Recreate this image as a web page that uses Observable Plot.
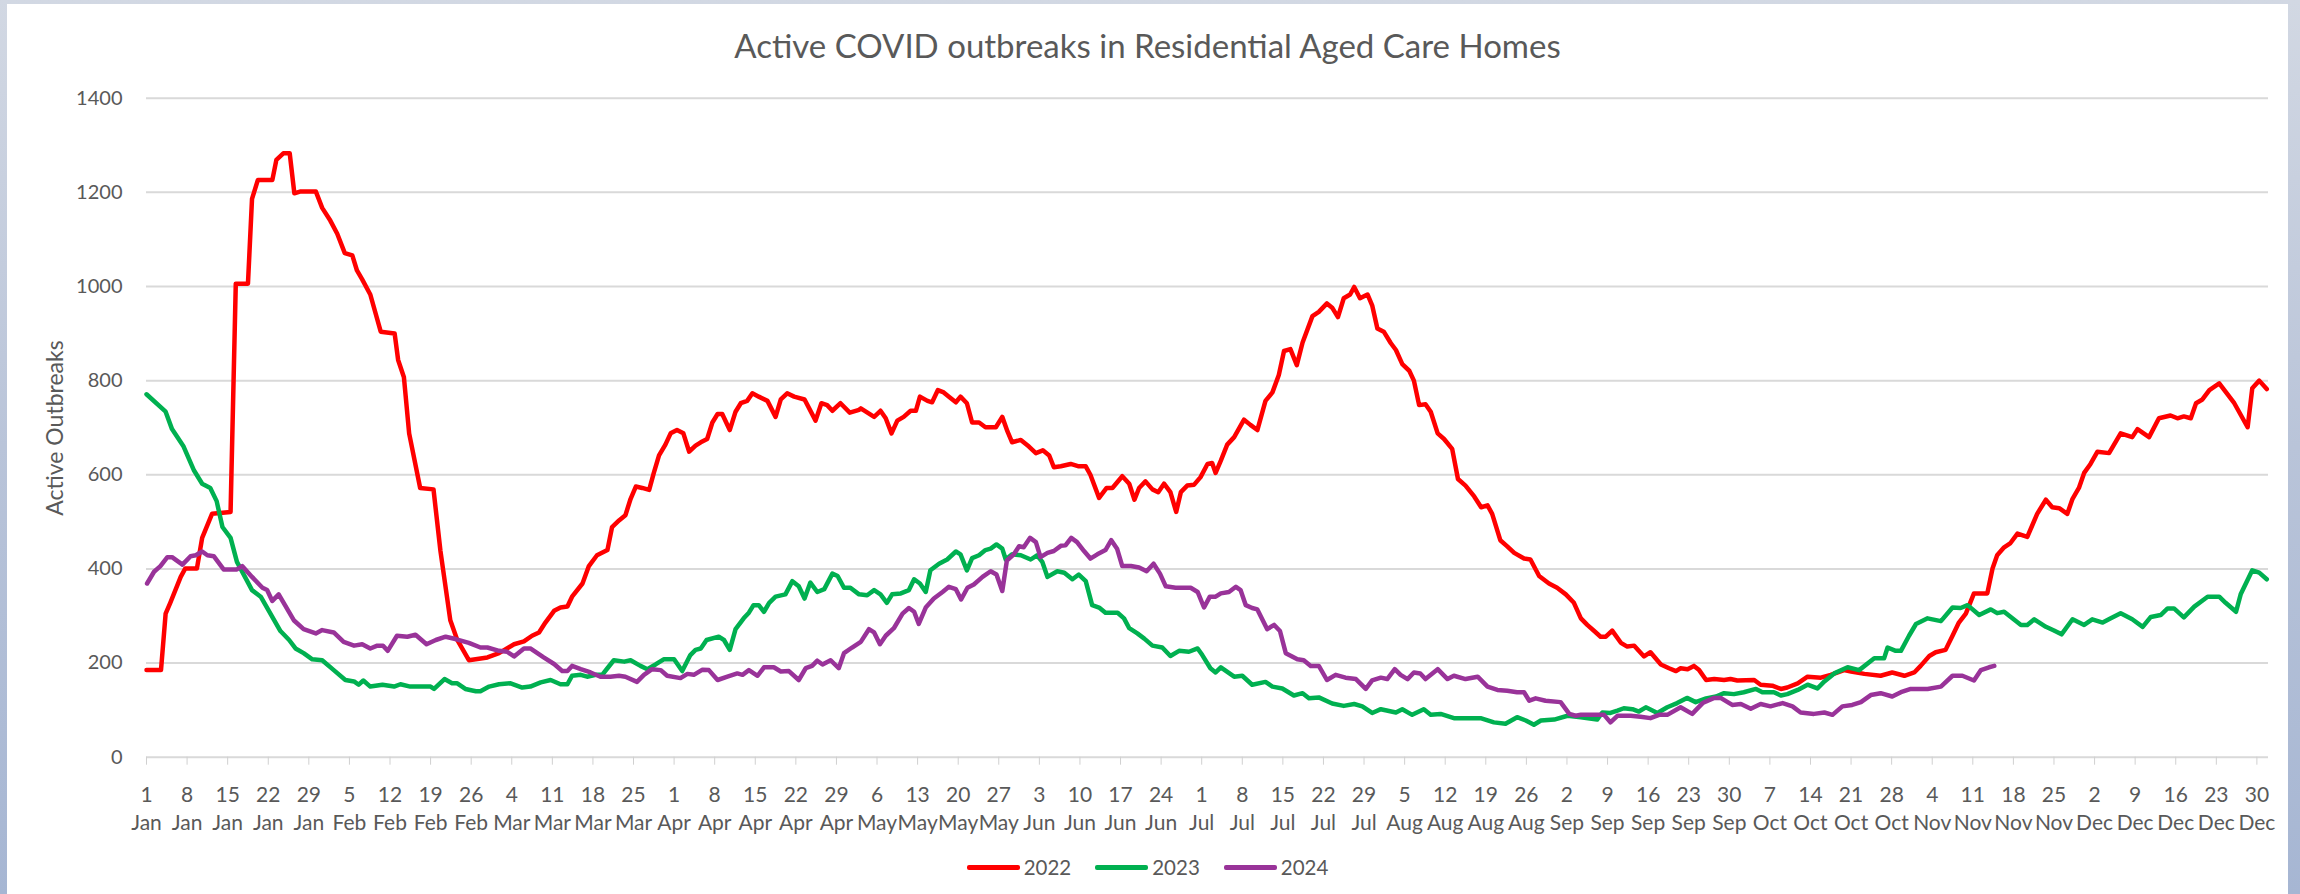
<!DOCTYPE html>
<html><head><meta charset="utf-8">
<script src="https://cdn.jsdelivr.net/npm/d3@7"></script>
<script src="https://cdn.jsdelivr.net/npm/@observablehq/plot@0.6"></script>
<style>
html,body{margin:0;padding:0;}
body{width:2300px;height:894px;overflow:hidden;background:linear-gradient(180deg,#d2d8e3 0%,#b9c4d9 50%,#a6b6d3 100%);font-family:Lato,"Open Sans",sans-serif;position:relative;}
#card{position:absolute;left:7px;top:4px;width:2281px;height:890px;background:#fff;}
#title{position:absolute;left:7px;width:2281px;top:25px;text-align:center;font-size:33px;color:#595959;line-height:40px;}
#ytitle{position:absolute;left:54px;top:428px;transform:translate(-50%,-50%) rotate(-90deg);font-size:23px;color:#595959;white-space:nowrap;}
#chart{position:absolute;left:0;top:60px;}
#legend{position:absolute;left:7px;width:2281px;top:853px;height:28px;display:flex;justify-content:center;align-items:center;gap:24px;font-size:20.5px;color:#595959;}
.item{display:flex;align-items:center;gap:4px}
.sw{width:53px;height:5px;border-radius:2px;}
</style>
</head><body>
<div id="card"></div>
<div id="title">Active COVID outbreaks in Residential Aged Care Homes</div>
<div id="ytitle">Active Outbreaks</div>
<div id="chart"></div>
<div id="legend"></div>
<script>
const years = ["2022", "2023", "2024"];
const colors = ["#ff0000", "#00b050", "#993399"];
const monthNames = ["Jan","Feb","Mar","Apr","May","Jun","Jul","Aug","Sep","Oct","Nov","Dec"];
const yTicks = [0, 200, 400, 600, 800, 1000, 1200, 1400];
const xTicks = d3.range(0, 365, 7);

const days2022 = [0,2.5,3.3,4.1,5.9,6.7,8.7,9.6,11.3,14.5,15.4,17.5,18.2,19.2,21.7,22.4,23.6,24.7,25.5,26.6,29.2,30.3,31.7,32.9,34.2,35.5,36.3,37.2,38.6,40.4,42.8,43.4,44.4,45.3,47.2,49.5,50.7,52.4,53.6,55.6,58.8,60.8,
63.4,65.1,66.5,67.7,68.8,70.3,71.4,72.6,73.4,75.2,76.3,77.7,79.5,80.3,81.5,82.6,83.5,84.4,85.5,86.7,87.5,88.4,89.5,90.4,91.5,92.6,93.6,94.7,95.6,96.7,97.6,98.5,99.3,100.6,101.6,102.5,103.6,104.5,105.6,107.1,108.5,109.4,110.5,111.7,113.5,115.4,116.4,117.4,118.3,119.7,121.3,122.9,
123.2,125.5,126.6,127.5,128.5,129.5,130.6,131.8,132.7,133.4,134.7,135.5,136.5,137.5,138.4,139.6,140.4,141.5,142.4,143.6,144.7,146.5,147.6,148.5,149.3,150.8,152.2,153.4,154.6,155.7,156.5,157.7,159.4,160.8,162.0,162.8,164.3,165.6,166.6,168.3,169.5,170.4,171.2,172.3,173.5,174.5,175.5,176.6,177.6,178.4,179.5,180.7,181.8,183.0,183.8,184.4,185.3,
186.4,187.6,189.3,190.4,191.6,193.0,194.2,195.3,196.2,197.3,198.4,199.4,201.1,202.2,203.6,204.5,205.5,206.5,207.6,208.3,209.3,210.6,211.4,212.3,213.4,214.6,215.5,216.6,217.8,218.6,219.5,220.6,221.5,222.7,223.8,225.2,226.2,227.5,229.0,230.2,231.3,232.1,233.5,234.7,235.9,237.6,238.7,240.2,241.9,243.3,244.8,246.2,247.4,
248.5,249.7,250.8,251.7,252.8,254.3,255.4,256.6,258.3,259.4,261.2,262.6,263.8,264.6,265.8,266.9,267.8,269.0,270.4,272.1,273.2,274.4,277.3,278.4,280.4,281.9,283.0,284.8,286.5,288.8,290.5,292.8,294.0,296.3,299.1,301.1,303.2,304.9,306.0,307.5,308.6,
310.3,311.5,312.6,313.8,315.2,317.5,318.4,319.2,320.4,321.5,322.7,324.4,326.1,327.6,328.7,329.9,331.3,332.2,333.3,334.2,335.3,336.5,338.5,340.5,342.5,343.4,345.4,347.1,349.1,350.3,351.4,352.6,353.5,354.6,355.8,357.5,360.1,362.4,363.2,364.4,365.7];
const vals2022 = [185,185,305,328,383,401,401,466,517,521,1006,1006,1186,1226,1226,1269,1283,1283,1198,1202,1202,1167,1140,1112,1071,1066,1034,1015,983,904,900,844,807,688,572,569,438,291,249,206,212,221,
240,246,258,265,286,311,318,320,341,369,406,429,440,489,503,514,549,575,572,568,604,641,664,688,695,688,649,662,669,676,711,729,729,695,734,752,757,773,766,757,723,760,773,766,760,715,752,748,736,752,732,738,
741,723,736,720,688,715,723,736,736,766,757,754,780,775,766,754,766,752,711,711,701,701,723,692,669,674,660,646,652,641,616,618,623,618,618,600,551,572,572,597,581,547,572,586,569,563,581,563,521,563,577,579,595,623,625,604,630,
664,680,717,706,695,757,775,812,863,867,833,881,937,946,964,955,935,975,983,999,975,983,960,911,904,880,865,835,821,800,748,750,734,688,676,655,591,577,554,531,535,517,461,448,434,422,420,385,369,360,346,328,295,
281,268,256,256,269,243,235,237,214,223,197,189,183,189,187,194,185,164,166,164,166,163,164,154,152,145,148,157,171,169,175,185,182,177,173,180,173,180,194,215,223,
228,258,286,305,348,348,401,429,446,455,475,468,517,547,531,529,517,549,572,604,623,649,646,688,680,697,680,720,726,720,724,720,752,760,780,794,752,701,784,800,782];

const days2023 = [0,3.3,4.4,6.4,8.2,9.6,11.0,12.1,13.1,14.5,15.6,18.2,19.7,23.1,24.6,25.7,27.1,28.6,30.3,32.3,34.3,35.8,36.6,37.4,38.6,40.7,42.7,43.8,45.5,49.0,49.6,51.4,52.7,53.6,55.0,56.8,57.6,59.1,60.8,
62.8,64.8,66.2,68.0,69.7,71.4,72.6,73.4,74.9,76.0,77.5,78.6,79.5,80.6,82.4,83.5,85.2,86.4,87.8,89.2,91.0,92.4,93.8,94.7,95.6,96.6,98.7,99.6,100.6,101.6,103.0,103.9,104.7,105.6,106.5,107.4,108.5,110.2,111.4,112.5,113.5,114.5,115.7,116.9,118.3,119.2,120.3,121.4,122.9,
124.3,125.5,126.6,127.7,128.6,130.1,131.5,132.4,133.4,134.4,135.2,136.7,138.1,139.6,140.4,141.5,142.4,143.6,144.7,145.6,146.6,147.6,148.2,149.3,150.8,152.5,153.6,154.5,155.4,157.1,158.3,159.7,160.8,162.0,163.1,164.3,165.4,167.5,168.6,169.5,170.9,172.1,173.5,175.2,176.6,178.1,179.8,181.3,182.1,183.5,184.4,185.3,
187.6,189.0,190.7,193.0,194.2,195.9,197.9,199.4,200.5,202.2,204.5,206.5,208.3,209.7,211.4,212.9,215.5,216.6,218.3,220.3,221.5,223.2,225.5,230.1,232.4,234.4,236.4,237.9,239.3,240.5,242.8,245.1,247.4,
250.2,251.1,252.5,253.7,254.8,256.3,257.4,258.6,260.6,262.3,264.0,265.7,267.2,269.0,270.7,272.1,273.8,275.5,277.6,278.7,280.7,281.9,283.0,284.8,286.5,288.2,289.4,291.1,293.4,295.4,298.0,299.7,300.3,301.7,302.6,304.0,305.2,307.2,
309.5,311.5,312.9,314.1,316.1,318.1,319.2,320.4,323.3,324.4,325.6,327.6,329.0,330.3,332.2,334.2,335.6,337.4,338.8,340.5,342.5,344.3,345.7,347.4,348.6,349.7,351.4,353.2,355.5,357.5,358.6,360.4,361.2,363.2,364.4,365.7];
const vals2023 = [771,734,697,660,609,581,572,544,489,466,415,355,341,268,249,231,221,208,206,185,164,161,154,163,150,154,150,155,150,150,145,166,157,157,145,140,140,150,155,
157,148,150,159,164,155,155,173,175,171,175,175,189,206,203,206,194,187,197,208,208,183,217,228,231,249,256,249,228,272,295,307,323,323,309,328,341,346,374,363,337,371,351,357,390,385,360,360,346,
344,355,346,328,346,348,355,378,369,351,397,411,420,437,431,397,423,429,440,443,452,443,420,431,429,420,429,415,383,395,392,378,388,374,323,318,307,307,295,274,263,252,237,233,215,226,224,231,217,189,180,191,
171,173,154,160,150,146,131,136,125,127,114,109,113,108,94,102,95,102,90,102,90,92,83,83,74,71,85,78,69,78,80,88,85,
80,95,94,99,104,102,97,106,94,106,115,126,117,125,129,136,134,138,145,138,138,131,134,143,154,146,161,178,191,185,210,210,233,226,226,258,283,295,
289,318,317,323,302,314,306,309,281,281,293,277,269,261,293,281,293,286,295,306,293,277,298,302,316,316,297,320,341,341,328,309,346,397,392,378];

const days2024 = [0.1,1.3,2.4,3.6,4.4,6.2,7.6,8.5,9.6,10.5,11.6,13.3,15.6,16.5,18.2,20.0,20.8,21.7,22.8,25.4,27.1,29.2,30.3,32.3,34.0,35.8,37.2,38.6,39.8,40.8,41.6,43.2,45.0,46.4,48.3,49.9,51.6,53.3,55.6,57.6,58.8,60.8,
62.2,63.4,65.1,66.2,68.5,70.3,71.7,72.6,73.4,74.9,76.6,78.3,80.0,81.5,82.6,84.6,85.8,87.2,88.7,89.8,92.1,93.3,94.4,95.9,97.0,98.5,100.2,101.9,102.8,103.9,105.4,106.5,108.2,109.4,110.8,112.5,113.7,114.8,115.7,116.6,118.0,119.4,120.3,121.7,
123.2,124.6,125.5,126.5,127.5,128.9,130.4,131.5,132.4,133.2,134.4,135.8,137.3,138.4,139.6,140.5,141.6,142.7,144.2,145.6,146.6,147.6,148.4,149.6,150.5,151.3,152.4,153.4,154.2,155.4,156.5,157.7,158.5,159.5,160.5,161.7,162.8,164.0,165.4,166.4,167.4,168.3,169.8,171.2,172.5,173.7,174.8,175.8,177.5,180.1,181.3,182.4,183.4,184.4,185.3,
186.7,187.9,188.7,189.6,190.7,191.6,193.3,194.5,195.5,196.5,198.5,199.6,200.8,202.2,203.6,205.1,206.8,208.6,210.3,211.4,212.9,214.0,215.3,216.3,217.5,218.6,219.7,220.6,222.7,224.4,225.5,227.5,229.6,231.3,233.0,234.7,236.4,237.6,238.5,239.6,241.3,243.9,245.4,246.5,247.4,
249.7,251.4,252.5,253.7,256.0,257.7,259.4,260.9,262.3,264.6,266.6,268.4,270.4,271.5,273.5,275.0,276.7,278.4,280.1,282.2,283.9,285.3,287.6,289.4,290.8,292.5,294.2,295.7,297.4,299.1,301.1,302.6,304.3,307.2,
309.5,311.5,313.2,315.2,316.4,317.8,318.7];
const vals2024 = [369,394,406,425,425,409,427,429,437,429,427,399,399,406,383,360,355,332,346,291,272,263,270,265,245,237,240,231,237,237,226,258,256,260,240,249,256,251,243,233,233,226,
224,214,231,231,212,198,183,183,194,187,180,171,171,173,171,160,175,187,185,173,168,177,175,186,185,164,171,178,175,185,173,191,191,182,183,164,189,194,205,197,206,189,221,233,
245,272,265,240,258,274,305,317,309,283,318,337,351,362,357,335,360,367,383,395,388,353,418,431,448,446,466,457,425,434,438,449,450,466,457,438,422,431,440,461,443,406,406,403,395,411,390,363,360,360,351,318,341,341,348,
351,362,355,323,317,314,272,281,268,221,208,206,194,194,164,175,169,166,145,163,169,166,187,175,166,180,178,166,187,166,173,166,171,150,143,141,138,138,120,125,120,117,92,88,90,
90,90,74,88,88,86,83,90,90,106,92,115,126,126,111,113,103,113,108,115,108,95,92,95,90,108,111,117,132,136,129,138,145,145,
150,173,173,163,185,191,194];

const seriesDays = [days2022, days2023, days2024];
const seriesVals = [vals2022, vals2023, vals2024];
const data = years.flatMap((yr, k) => seriesDays[k].map((d, i) => ({year: yr, day: d, value: seriesVals[k][i]})));

function fmtTick(d) {
  const dt = new Date(Date.UTC(2024, 0, 1 + d));
  return dt.getUTCDate() + "\n" + monthNames[dt.getUTCMonth()];
}

const chart = Plot.plot({
  width: 2300,
  height: 760,
  marginLeft: 146,
  marginRight: 32,
  marginTop: 37.7,
  marginBottom: 63.3,
  x: {domain: [0, 366]},
  y: {domain: [0, 1400]},
  color: {domain: years, range: colors},
  style: {fontFamily: "Lato, 'Open Sans', sans-serif", background: "transparent", overflow: "visible"},
  marks: [
    Plot.ruleY(yTicks, {stroke: "#d9d9d9", strokeWidth: 2}),
    Plot.axisY({ticks: yTicks, tickFormat: d => String(d), tickSize: 0, tickPadding: 24, fontSize: 20, fill: "#595959", label: null}),
    Plot.axisX({ticks: xTicks, tickFormat: fmtTick, tickSize: 8, tickPadding: 17, stroke: "#d0d0d0", fill: "#595959", fontSize: 21, lineHeight: 1.32, label: null}),
    ...years.map(yr => Plot.line(data.filter(d => d.year === yr), {x: "day", y: "value", stroke: "year", strokeWidth: 4.5, strokeLinejoin: "round", strokeLinecap: "round"}))
  ]
});
document.getElementById("chart").appendChild(chart);

const legend = document.getElementById("legend");
years.forEach((yr, k) => {
  const it = document.createElement("div");
  it.className = "item";
  it.innerHTML = `<span class="sw" style="background:${colors[k]}"></span><span>${yr}</span>`;
  legend.appendChild(it);
});
</script>
</body></html>
